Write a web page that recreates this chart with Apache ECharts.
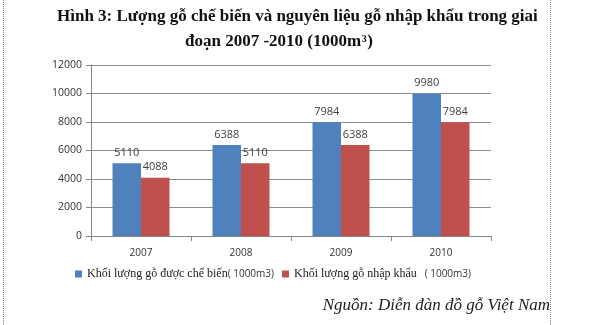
<!DOCTYPE html>
<html>
<head>
<meta charset="utf-8">
<script src="https://cdn.jsdelivr.net/npm/echarts@6/dist/echarts.min.js"></script>
<style>
html,body{margin:0;padding:0;background:#fff;}
#chart{width:600px;height:325px;}
</style>
</head>
<body>
<div id="chart"></div>
<script>
// Years and volumes (1000 m3)
const years = ['2007', '2008', '2009', '2010'];
const processedVolume = [5110, 6388, 7984, 9980];
const importedVolume = [4088, 5110, 6388, 7984];
const seriesNames = ['Khối lượng gỗ được chế biến', 'Khối lượng gỗ nhập khẩu'];
const seriesUnits = ['( 1000m3)', '   ( 1000m3)'];
const titleLine1 = 'Hình 3: Lượng gỗ chế biến và nguyên liệu gỗ nhập khẩu trong giai';
const titleLine2 = 'đoạn 2007 -2010 (1000m';
const sourceText = 'Nguồn: Diễn đàn đồ gỗ Việt Nam';

const chart = echarts.init(document.getElementById('chart'), null, {renderer: 'canvas'});

const serif = 'Liberation Serif, serif';
const titleFont = 'bold 17px ' + serif;
const supFont = 'bold 10px ' + serif;

// width helper for placing the superscript after the title text
const measureCtx = document.createElement('canvas').getContext('2d');
function textWidth(str, font) {
  measureCtx.font = font;
  return measureCtx.measureText(str).width;
}
const line2Left = 185;
const supLeft = line2Left + textWidth(titleLine2, titleFont) + 0.5;
const closeLeft = supLeft + textWidth('3', supFont) + 0.5;

const labelStyle = {
  show: true,
  position: 'top',
  distance: 5,
  color: '#404040',
  fontFamily: 'Open Sans, sans-serif',
  fontSize: 11
};

chart.setOption({
  animation: false,
  backgroundColor: '#fff',
  grid: {left: 91, right: 109, top: 65, bottom: 89},
  legend: {
    left: 70,
    top: 263,
    icon: 'rect',
    itemWidth: 7,
    itemHeight: 7,
    itemGap: 8,
    data: seriesNames,
    formatter: function (name) {
      const i = seriesNames.indexOf(name);
      return '{a|' + name + '}{b|' + seriesUnits[i] + '}';
    },
    textStyle: {
      rich: {
        a: {fontFamily: serif, fontSize: 12, color: '#1a1a1a'},
        b: {fontFamily: 'Open Sans, sans-serif', fontSize: 10, color: '#333'}
      }
    }
  },
  xAxis: {
    type: 'category',
    data: years,
    axisLine: {lineStyle: {color: '#868686'}},
    axisTick: {show: true, length: 5, lineStyle: {color: '#868686'}},
    axisLabel: {color: '#333', fontFamily: 'Open Sans, sans-serif', fontSize: 10, margin: 12}
  },
  yAxis: {
    type: 'value',
    min: 0,
    max: 12000,
    interval: 2000,
    axisLine: {show: true, lineStyle: {color: '#868686'}},
    axisTick: {show: true, length: 5, lineStyle: {color: '#868686'}},
    axisLabel: {
      color: '#333', fontFamily: 'Open Sans, sans-serif', fontSize: 10.5, margin: 9,
      formatter: function (v) { return String(v); }
    },
    splitLine: {lineStyle: {color: '#8c8c8c', width: 1}}
  },
  series: [
    {
      name: seriesNames[0],
      type: 'bar',
      data: processedVolume,
      barWidth: 28.5,
      barGap: '0%',
      itemStyle: {color: '#4F81BD'},
      label: labelStyle
    },
    {
      name: seriesNames[1],
      type: 'bar',
      data: importedVolume,
      barWidth: 28.5,
      barGap: '0%',
      itemStyle: {color: '#C0504D'},
      label: labelStyle
    }
  ],
  graphic: [
    {
      type: 'text', left: 57, top: 8,
      style: {text: titleLine1, font: titleFont, fill: '#111'}
    },
    {
      type: 'text', left: line2Left, top: 33,
      style: {text: titleLine2, font: titleFont, fill: '#111'}
    },
    {
      type: 'text', left: supLeft, top: 34,
      style: {text: '3', font: supFont, fill: '#111'}
    },
    {
      type: 'text', left: closeLeft, top: 33,
      style: {text: ')', font: titleFont, fill: '#111'}
    },
    {
      type: 'text', right: 50, top: 297,
      style: {text: sourceText, font: 'italic 17px ' + serif, fill: '#222'}
    },
    {
      type: 'line', shape: {x1: 3.5, y1: 0, x2: 3.5, y2: 325},
      style: {stroke: '#888', lineWidth: 1, lineDash: [1, 1]}
    },
    {
      type: 'line', shape: {x1: 550.5, y1: 0, x2: 550.5, y2: 325},
      style: {stroke: '#888', lineWidth: 1, lineDash: [1, 1]}
    }
  ]
});
</script>
</body>
</html>
